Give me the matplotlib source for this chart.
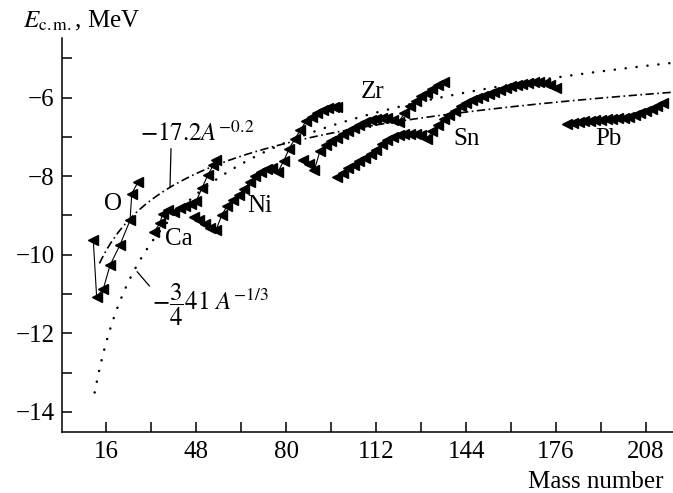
import numpy as np
import matplotlib.pyplot as plt
from matplotlib.ticker import FixedLocator

plt.rcParams['font.family'] = ['Liberation Serif', 'DejaVu Serif']
plt.rcParams['mathtext.fontset'] = 'stix'
plt.rcParams['lines.scale_dashes'] = False

# isotope chains: mass number, c.m. energy (MeV)
o_a = [11.3, 12.5, 14.9, 17.3, 20.8, 24.4, 25.0, 27.3]
o_e = [-9.63, -11.07, -10.86, -10.26, -9.75, -9.12, -8.44, -8.14]

ca_a = [33, 35, 36, 38, 40, 42, 44, 46, 48, 50, 52, 54, 55]
ca_e = [-9.41, -9.20, -8.95, -8.86, -8.90, -8.82, -8.76, -8.72, -8.62, -8.30,
        -7.98, -7.72, -7.58]

ni_a = [47, 49, 51, 53, 55, 57, 59, 61, 63, 65, 67, 69, 71, 73, 75, 77, 79,
        81, 83, 85, 87, 89, 91, 93, 95, 97, 98]
ni_e = [-9.05, -9.12, -9.22, -9.32, -9.37, -8.99, -8.75, -8.60, -8.48, -8.33,
        -8.15, -8.00, -7.90, -7.82, -7.79, -7.89, -7.62, -7.30, -7.05, -6.83,
        -6.60, -6.48, -6.40, -6.32, -6.27, -6.24, -6.23]

zr_a = [86, 88, 90, 92, 94, 96, 98, 100, 102, 104, 106, 108, 110, 112, 114,
        116, 118, 120, 122, 124, 126, 128, 130, 132, 134, 136]
zr_e = [-7.59, -7.70, -7.84, -7.35, -7.20, -7.10, -7.02, -6.93, -6.85, -6.76,
        -6.69, -6.63, -6.58, -6.54, -6.52, -6.53, -6.58, -6.62, -6.40, -6.22,
        -6.08, -5.97, -5.88, -5.78, -5.68, -5.59]

sn_a = [98, 100, 102, 104, 106, 108, 110, 112, 114, 116, 118, 120, 122, 124,
        126, 128, 130, 132, 134, 136, 138, 140, 142, 144, 146, 148, 150, 152,
        154, 156, 158, 160, 162, 164, 166, 168, 170, 172, 174, 176]
sn_e = [-8.01, -7.92, -7.80, -7.71, -7.62, -7.53, -7.43, -7.32, -7.18, -7.08,
        -7.01, -6.96, -6.93, -6.92, -6.92, -6.96, -7.05, -6.85, -6.70, -6.55,
        -6.44, -6.33, -6.22, -6.14, -6.07, -6.02, -5.97, -5.91, -5.85, -5.80,
        -5.76, -5.71, -5.68, -5.65, -5.62, -5.60, -5.59, -5.62, -5.68, -5.76]

pb_a = [180, 182, 184, 186, 188, 190, 192, 194, 196, 198, 200, 202, 204, 206,
        208, 210, 212, 214]
pb_e = [-6.66, -6.64, -6.62, -6.60, -6.59, -6.57, -6.56, -6.55, -6.54, -6.53,
        -6.51, -6.48, -6.44, -6.39, -6.35, -6.29, -6.22, -6.14]

chains = [(o_a, o_e), (ca_a, ca_e), (ni_a, ni_e), (zr_a, zr_e), (sn_a, sn_e), (pb_a, pb_e)]

fig = plt.figure(figsize=(6.73, 4.93), dpi=100)
ax = fig.add_axes([0.0914, 0.1231, 0.9086, 0.7999])
ax.set_xlim(0, 217.6)
ax.set_ylim(-14.52, -4.48)

# fits: -(3/4)*41*A^(-1/3) and -17.2*A^(-0.2)
a1 = np.linspace(11.8, 217.6, 400)
ax.plot(a1, -0.75 * 41 * a1 ** (-1 / 3), color='black', lw=1.8,
        dashes=(0.1, 7.8), dash_capstyle='round')
a2 = np.linspace(13.5, 217.6, 400)
ax.plot(a2, -17.2 * a2 ** (-0.2), color='black', lw=1.2,
        dashes=(6, 2.5, 1.2, 2.5))

for a, e in chains:
    ax.plot(a, e, color='black', lw=0.8, marker='<', ms=6.5)

for s in ['top', 'right']:
    ax.spines[s].set_visible(False)
for s in ['left', 'bottom']:
    ax.spines[s].set_linewidth(1.1)

ax.xaxis.set_major_locator(FixedLocator(range(16, 209, 32)))
ax.xaxis.set_minor_locator(FixedLocator(range(32, 193, 32)))
ax.yaxis.set_major_locator(FixedLocator(range(-14, -5, 2)))
ax.yaxis.set_minor_locator(FixedLocator(range(-13, -4, 2)))
ax.tick_params(which='both', direction='in', length=7.2, width=1.1, labelsize=18)
ax.tick_params(axis='x', which='both', pad=6)
ax.tick_params(axis='y', which='both', pad=5)

fig.text(23 / 673, 1 - 27 / 493, r'$E_{\rm c.m.}$, MeV', fontsize=18, va='baseline')
fig.text(663 / 673, 1 - 488 / 493, 'Mass number', fontsize=18, ha='right', va='baseline')

# element labels
for name, a, e in [('O', 18.2, -8.7), ('Ca', 41.8, -9.6), ('Ni', 70.6, -8.75),
                   ('Zr', 110.8, -5.85), ('Sn', 144.3, -7.05), ('Pb', 194.5, -7.05)]:
    ax.text(a, e, name, fontsize=18, ha='center', va='center')

ax.annotate(r'$-17.2A^{-0.2}$', xy=(38.6, -8.28), xytext=(28, -7.1),
            fontsize=18, ha='left', va='baseline',
            arrowprops=dict(arrowstyle='-', color='black', lw=0.9,
                            shrinkA=0, shrinkB=0, relpos=(0.27, 0)))
ax.annotate(r'$-\dfrac{3}{4}41\ A^{-1/3}$', xy=(26.9, -10.43), xytext=(32.3, -11.28),
            fontsize=18, ha='left', va='center',
            arrowprops=dict(arrowstyle='-', color='black', lw=0.9,
                            shrinkA=0, shrinkB=0, relpos=(0.03, 0.75)))

fig.savefig('out.png', dpi=100)
